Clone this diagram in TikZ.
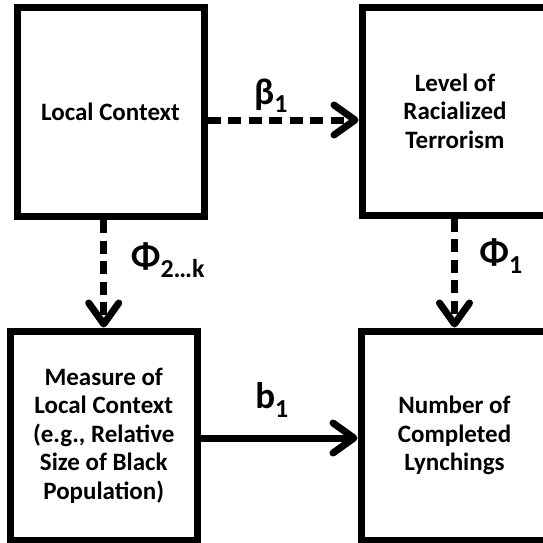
\documentclass[tikz,border=0pt]{standalone}
\usepackage{fontspec}
\setmainfont{Carlito}
\usetikzlibrary{arrows.meta}
\begin{document}
\begin{tikzpicture}[x=1pt,y=-1pt,
  box/.style={draw, line width=7pt, align=center, inner sep=0pt,
    font=\bfseries\fontsize{25}{28.5}\selectfont},
  link/.style={line width=7pt, -{Straight Barb[length=21pt,width=30pt,round]}},
  dashlink/.style={link, dash pattern=on 13pt off 7.5pt},
  coef/.style={font=\bfseries\fontsize{37}{42}\selectfont, inner sep=0pt}]
\useasboundingbox (0,0) rectangle (543,543);
\clip (0,0) rectangle (543,543);
% four boxes
\node[box, minimum width=187pt, minimum height=209pt] (ctx) at (110.5,112) {Local Context};
\node[box, minimum width=186pt, minimum height=207.5pt] (terr) at (455,111.25) {Level of\\Racialized\\Terrorism};
\node[box, minimum width=187.5pt, minimum height=209pt] (meas) at (103.75,435.5) {Measure of\\Local Context\\(e.g., Relative\\Size of Black\\Population)};
\node[box, minimum width=187pt, minimum height=209pt] (lynch) at (454.5,435.5) {Number of\\Completed\\Lynchings};
% heights of the two horizontal links
\coordinate (rowA) at (0,120);
\coordinate (rowB) at (0,438);
% links
\draw[dashlink] (ctx.east |- rowA) -- (terr.west |- rowA);
\draw[dashlink] (ctx.south -| meas.north) -- (meas.north);
\draw[dashlink] (terr.south -| lynch.north) -- (lynch.north);
\draw[link] (meas.east |- rowB) -- (lynch.west |- rowB);
% coefficients
\node[coef] (beta) at (271,96) {β\textsubscript{1}};
\node[coef] (phik) at (168,260) {Φ\textsubscript{2…k}};
\node[coef] (phi1) at (501,256) {Φ\textsubscript{1}};
\node[coef] (b1) at (272,400) {b\textsubscript{1}};
\end{tikzpicture}
\end{document}
